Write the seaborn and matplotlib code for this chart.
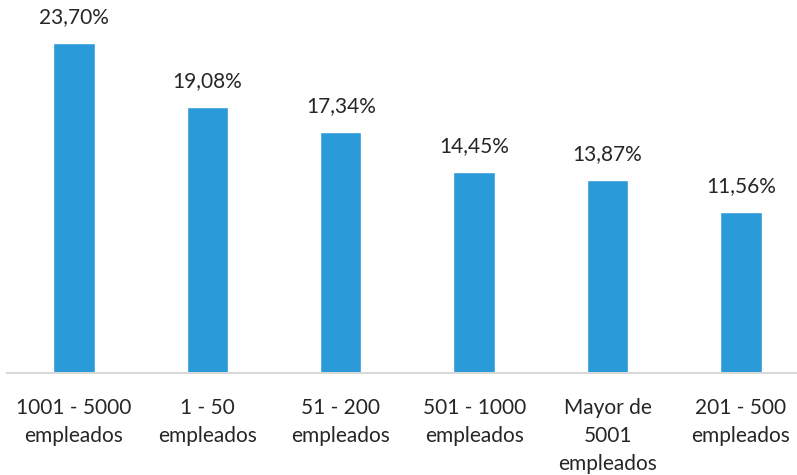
import matplotlib
matplotlib.use('Agg')
import matplotlib.pyplot as plt
import seaborn as sns
import pandas as pd

categories = ['1001 - 5000\nempleados', '1 - 50\nempleados', '51 - 200\nempleados',
              '501 - 1000\nempleados', 'Mayor de\n5001\nempleados', '201 - 500\nempleados']
values = [23.70, 19.08, 17.34, 14.45, 13.87, 11.56]
value_labels = ['23,70%', '19,08%', '17,34%', '14,45%', '13,87%', '11,56%']

sns.set_theme(style='white')
plt.rcParams['font.family'] = ['Lato', 'DejaVu Sans']

df = pd.DataFrame({'cat': categories, 'val': values})

fig = plt.figure(figsize=(7.97, 4.75), dpi=100)
ax = fig.add_axes([7 / 797, 102 / 475, 790 / 797, 373 / 475])
sns.barplot(data=df, x='cat', y='val', color='#2A9BD8', width=0.31, ax=ax, saturation=1)

for i, (v, lab) in enumerate(zip(values, value_labels)):
    ax.text(i, v + 1.15, lab, ha='center', va='bottom', fontsize=15, color='#262626')

ax.set_xlim(-0.502, 5.42)
ax.set_ylim(0, 26.8)
ax.set_xlabel('')
ax.set_ylabel('')
ax.set_yticks([])
for s in ['top', 'right', 'left']:
    ax.spines[s].set_visible(False)
ax.spines['bottom'].set_color('#D9D9D9')
ax.spines['bottom'].set_linewidth(1.5)
ax.tick_params(axis='x', length=0, pad=18, labelsize=15, colors='#262626')
for t in ax.get_xticklabels():
    t.set_linespacing(1.5)
    t.set_verticalalignment('top')

fig.savefig('out.png', dpi=100, facecolor='white')
